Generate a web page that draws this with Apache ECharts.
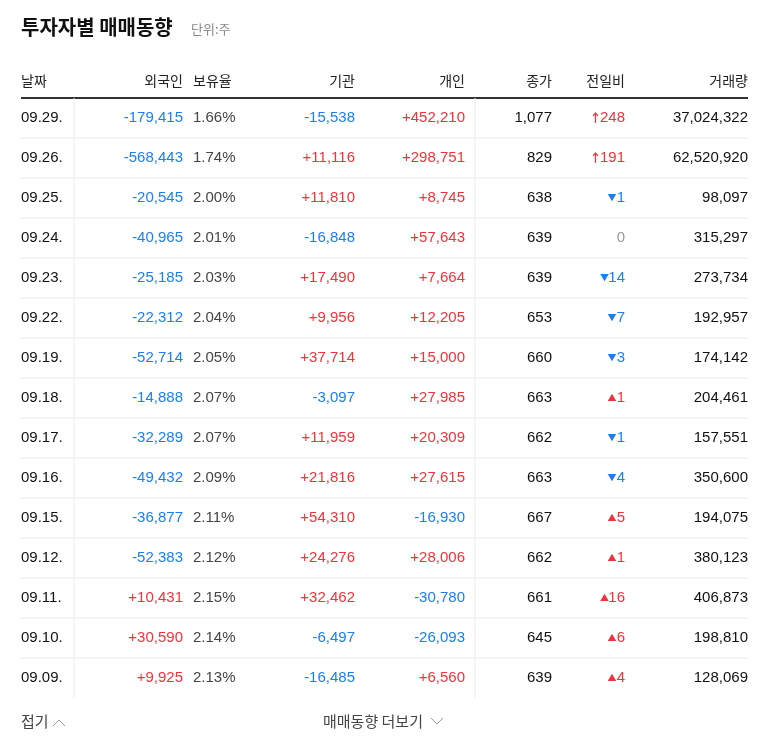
<!DOCTYPE html>
<html><head><meta charset="utf-8">
<script src="https://cdn.jsdelivr.net/npm/echarts@6/dist/echarts.min.js"></script>
<style>html,body{margin:0;background:#fff}#c{width:768px;height:749px}</style>
</head><body><div id="c"></div>
<script>
const dates=['09.29.','09.26.','09.25.','09.24.','09.23.','09.22.','09.19.','09.18.','09.17.','09.16.','09.15.','09.12.','09.11.','09.10.','09.09.'];
const foreign=[-179415,-568443,-20545,-40965,-25185,-22312,-52714,-14888,-32289,-49432,-36877,-52383,10431,30590,9925];
const holdRatio=['1.66%','1.74%','2.00%','2.01%','2.03%','2.04%','2.05%','2.07%','2.07%','2.09%','2.11%','2.12%','2.15%','2.14%','2.13%'];
const institution=[-15538,11116,11810,-16848,17490,9956,37714,-3097,11959,21816,54310,24276,32462,-6497,-16485];
const individual=[452210,298751,8745,57643,7664,12205,15000,27985,20309,27615,-16930,28006,-30780,-26093,6560];
const closePrice=[1077,829,638,639,639,653,660,663,662,663,667,662,661,645,639];
const change=[248,191,-1,0,-14,-7,-3,1,-1,-4,5,1,16,6,4];
const limitUp=[true,true,false,false,false,false,false,false,false,false,false,false,false,false,false];
const volume=[37024322,62520920,98097,315297,273734,192957,174142,204461,157551,350600,194075,380123,406873,198810,128069];
const headers=['날짜','외국인','보유율','기관','개인','종가','전일비','거래량'];

const RED='#f0333b',BLUE='#1b7ff0',DARK='#111',FONT='"Noto Sans CJK KR","Liberation Sans",sans-serif';
const NUMFONT='"Liberation Sans","Noto Sans CJK KR",sans-serif';
const fmt=v=>v.toLocaleString('en-US');
const sgn=v=>(v>0?'+':'')+fmt(v);
const col=v=>v>0?RED:(v<0?BLUE:'#999');

const chart=echarts.init(document.getElementById('c'));
function txt(x,y,s,fill,align){return {type:'text',style:{x,y,text:s,fill,align:align||'right',verticalAlign:'middle',font:'15px '+NUMFONT,letterSpacing:-0.6}};}
chart.setOption({
  animation:false,
  grid:{left:0,right:0,top:98,height:600},
  xAxis:{type:'value',min:0,max:768,show:false},
  yAxis:{type:'category',inverse:true,data:dates,axisLine:{show:false},axisTick:{show:false},axisLabel:{show:false},splitLine:{show:false}},
  graphic:[
    {type:'text',left:21,top:17,style:{text:'투자자별 매매동향',font:'bold 20px '+FONT,fill:'#111',letterSpacing:0.5}},
    {type:'text',left:191,top:23,style:{text:'단위:주',font:'13px '+FONT,fill:'#888'}},
    ...headers.map((h,i)=>{const xs=[21,183,193,355,465,552,625,748];const al=(i===0||i===2)?'left':'right';
      return {type:'text',x:xs[i],y:81,style:{text:h,font:'14px '+FONT,fill:'#222',align:al,verticalAlign:'middle'}};}),
    {type:'rect',shape:{x:21,y:97,width:727,height:2},style:{fill:'#333'}},
    {type:'text',x:21,y:721,style:{text:'접기',font:'15px '+FONT,fill:'#444',verticalAlign:'middle'}},
    {type:'polyline',shape:{points:[[53,726],[59,720],[65,726]]},style:{stroke:'#999',fill:null,lineWidth:1}},
    {type:'text',x:323,y:721,style:{text:'매매동향 더보기',font:'15px '+FONT,fill:'#444',verticalAlign:'middle',letterSpacing:0.5}},
    {type:'polyline',shape:{points:[[431,718],[437,724],[443,718]]},style:{stroke:'#999',fill:null,lineWidth:1}}
  ],
  series:[{type:'custom',coordinateSystem:'cartesian2d',
    data:dates.map((d,i)=>[0,i]),
    renderItem:(params,api)=>{
      const i=api.value(1);const y=api.coord([0,i])[1];
      const top=y-20,bot=y+20;
      const ch=change[i];
      let arrow='',ac=col(ch);
      if(limitUp[i]) arrow='↑'; else if(ch>0) arrow='▲'; else if(ch<0) arrow='▼';
      const els=[
        {type:'line',shape:{x1:74,y1:top,x2:74,y2:bot},style:{stroke:'#ebebeb'}},
        {type:'line',shape:{x1:475,y1:top,x2:475,y2:bot},style:{stroke:'#ebebeb'}},
        txt(21,y,dates[i],DARK,'left'),
        txt(183,y,sgn(foreign[i]),col(foreign[i])),
        txt(193,y,holdRatio[i],'#444','left'),
        txt(355,y,sgn(institution[i]),col(institution[i])),
        txt(465,y,sgn(individual[i]),col(individual[i])),
        txt(552,y,fmt(closePrice[i]),DARK),
        txt(625,y,fmt(Math.abs(ch)),ac),
        txt(748,y,fmt(volume[i]),DARK)
      ];
      if(i<dates.length-1) els.push({type:'line',shape:{x1:21,y1:bot,x2:748,y2:bot},style:{stroke:'#ebebeb'}});
      if(arrow){const w=String(Math.abs(ch)).length*7.5;
        els.push({type:'text',style:{x:625-w-1,y:y,text:arrow,fill:ac,align:'right',verticalAlign:'middle',
          font:(limitUp[i]?'bold 12px ':'9px ')+FONT}});}
      return {type:'group',children:els};
    }}]
});
</script></body></html>
